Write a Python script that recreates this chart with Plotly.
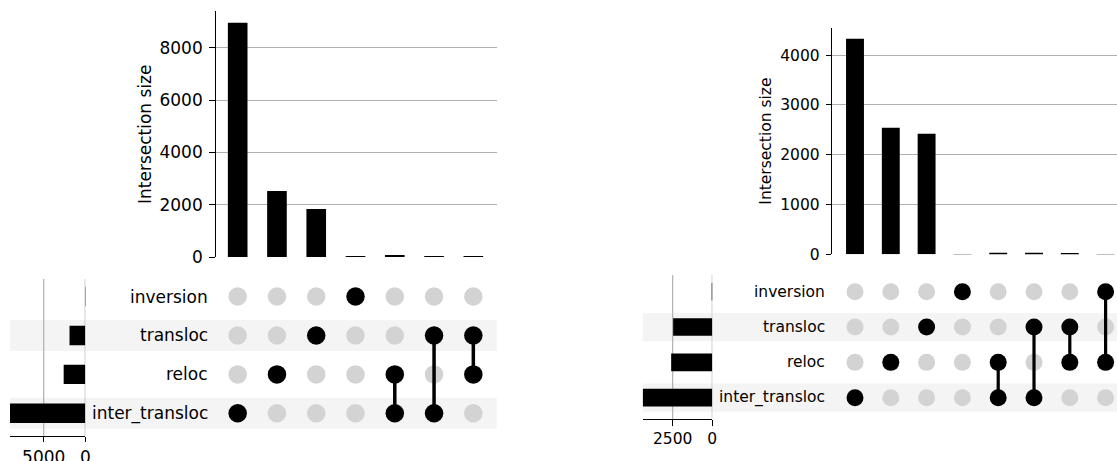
import plotly.graph_objects as go

W, H = 1117, 461

# ---- data -------------------------------------------------------------
sets = ["inter_transloc", "reloc", "transloc", "inversion"]  # bottom -> top

# left panel: intersection sizes and their member sets
left_sizes = [8960, 2525, 1840, 15, 55, 35, 20]
left_members = [
    ["inter_transloc"],
    ["reloc"],
    ["transloc"],
    ["inversion"],
    ["inter_transloc", "reloc"],
    ["inter_transloc", "transloc"],
    ["transloc", "reloc"],
]

# right panel
right_sizes = [4330, 2540, 2420, 5, 30, 30, 20, 5]
right_members = [
    ["inter_transloc"],
    ["reloc"],
    ["transloc"],
    ["inversion"],
    ["inter_transloc", "reloc"],
    ["inter_transloc", "transloc"],
    ["transloc", "reloc"],
    ["reloc", "inversion"],
]

FONT = "DejaVu Sans"
GRID = "#b0b0b0"
DOT_OFF = "#d3d3d3"
BAND = "#f4f4f4"


def px_x(a, b):
    return [a / W, b / W]


def px_y(top, bottom):
    return [1 - bottom / H, 1 - top / H]


fig = go.Figure()
layout = dict(
    width=W, height=H, margin=dict(l=0, r=0, t=0, b=0, autoexpand=False),
    paper_bgcolor="white", plot_bgcolor="rgba(0,0,0,0)",
    showlegend=False, shapes=[], annotations=[],
    font=dict(family=FONT, color="black"),
)


def add_panel(k, sizes, members, geom):
    fs = geom["font"]
    xb, yb = f"x{k}", f"y{k}"
    xm, ym = f"x{k+1}", f"y{k+1}"
    xt, yt = f"x{k+2}", f"y{k+2}"
    n = len(sizes)
    cols = list(range(n))
    rows = {s: i for i, s in enumerate(sets)}
    totals = [sum(v for v, m in zip(sizes, members) if s in m) for s in sets]

    # intersection size bars
    fig.add_trace(go.Bar(x=cols, y=sizes, width=0.5, marker_color="black",
                         marker_line_width=0, xaxis=xb, yaxis=yb))

    # matrix: inactive dots, active dots, connectors
    off_x, off_y, on_x, on_y, lx, ly = [], [], [], [], [], []
    for c, m in zip(cols, members):
        rr = [rows[s] for s in m]
        for s in sets:
            if s in m:
                on_x.append(c); on_y.append(rows[s])
            else:
                off_x.append(c); off_y.append(rows[s])
        if len(rr) > 1:
            lx += [c, c, None]; ly += [min(rr), max(rr), None]
    fig.add_trace(go.Scatter(x=off_x, y=off_y, mode="markers",
                             marker=dict(color=DOT_OFF, size=geom["dot"]),
                             xaxis=xm, yaxis=ym, hoverinfo="skip"))
    fig.add_trace(go.Scatter(x=lx, y=ly, mode="lines",
                             line=dict(color="black", width=geom["lw"]),
                             xaxis=xm, yaxis=ym, hoverinfo="skip"))
    fig.add_trace(go.Scatter(x=on_x, y=on_y, mode="markers",
                             marker=dict(color="black", size=geom["dot"]),
                             xaxis=xm, yaxis=ym, hoverinfo="skip"))

    # set totals
    fig.add_trace(go.Bar(x=totals, y=list(range(len(sets))), orientation="h",
                         width=0.5, marker_color="black", marker_line_width=0,
                         xaxis=xt, yaxis=yt))

    xdom = px_x(*geom["xpx"])
    xr = geom["xr"]
    mat_dom = px_y(*geom["mat_y"])
    tick_font = dict(family=FONT, size=fs, color="black")

    layout["xaxis" + ("" if k == 1 else str(k))] = dict(
        domain=xdom, range=xr, visible=False, anchor=yb, automargin=False)
    layout["yaxis" + ("" if k == 1 else str(k))] = dict(
        domain=px_y(*geom["bar_y"]), range=[0, max(sizes) * 1.05],
        dtick=geom["dtick"], anchor=xb, showline=True, linecolor="black",
        linewidth=1.1, ticks="outside", ticklen=5.5, tickwidth=1.1,
        tickcolor="black", showgrid=True, gridcolor=GRID, gridwidth=1.2,
        zeroline=False, tickfont=tick_font, ticklabelstandoff=3,
        automargin=False)
    layout[f"xaxis{k+1}"] = dict(domain=xdom, range=xr, visible=False,
                                 anchor=ym, automargin=False)
    layout[f"yaxis{k+1}"] = dict(domain=mat_dom, range=geom["yr"],
                                 visible=False, anchor=xm, automargin=False)
    layout[f"xaxis{k+2}"] = dict(
        domain=px_x(*geom["tot_x"]), range=[max(totals), 0],
        tickvals=geom["tot_ticks"], anchor=yt, showline=True,
        linecolor="black", linewidth=1.1, ticks="outside", ticklen=5.5,
        tickwidth=1.1, tickcolor="black", showgrid=False, zeroline=False,
        tickfont=tick_font, ticklabelstandoff=geom["tot_pad"],
        automargin=False)
    layout[f"yaxis{k+2}"] = dict(domain=mat_dom, range=geom["yr"],
                                 visible=False, anchor=xt, automargin=False)

    # alternating row shading across totals, labels and matrix
    for i in range(0, len(sets), 2):
        layout["shapes"].append(dict(
            type="rect", xref="paper", yref=ym,
            x0=geom["tot_x"][0] / W, x1=geom["xpx"][1] / W,
            y0=i - 0.4, y1=i + 0.4, fillcolor=BAND, line_width=0,
            layer="below"))

    # vertical grid of the totals axis
    for t in geom["tot_ticks"]:
        layout["shapes"].append(dict(
            type="line", xref=xt, yref="paper", x0=t, x1=t,
            y0=mat_dom[0], y1=mat_dom[1],
            line=dict(color=GRID, width=1.2), layer="below"))

    # set names
    for s in sets:
        layout["annotations"].append(dict(
            x=geom["label_x"] / W, xref="paper", y=rows[s], yref=ym,
            text=s, showarrow=False, xanchor="right", yanchor="middle",
            font=tick_font))

    # axis title
    layout["annotations"].append(dict(
        x=geom["title_x"] / W, xref="paper",
        y=1 - (geom["bar_y"][0] + geom["bar_y"][1]) / 2 / H, yref="paper",
        text="Intersection size", textangle=-90, showarrow=False,
        xanchor="center", yanchor="middle", font=tick_font))


add_panel(1, left_sizes, left_members, dict(
    font=17, dot=18.5, lw=3.5,
    xpx=(215.7, 496.7), xr=[-0.56, 6.595],
    bar_y=(11, 257), dtick=2000,
    mat_y=(279, 435.7), yr=[-0.576, 3.452],
    tot_x=(10, 85.3), tot_ticks=[5000, 0], tot_pad=0,
    label_x=209.5, title_x=145))

add_panel(4, right_sizes, right_members, dict(
    font=15.5, dot=17, lw=3.2,
    xpx=(832.3, 1117), xr=[-0.634, 7.318],
    bar_y=(28, 254.3), dtick=1000,
    mat_y=(275, 419), yr=[-0.603, 3.473],
    tot_x=(642.7, 712.3), tot_ticks=[2500, 0], tot_pad=0,
    label_x=826.5, title_x=766.5))

fig.update_layout(**layout)
fig.write_html("out.html")
